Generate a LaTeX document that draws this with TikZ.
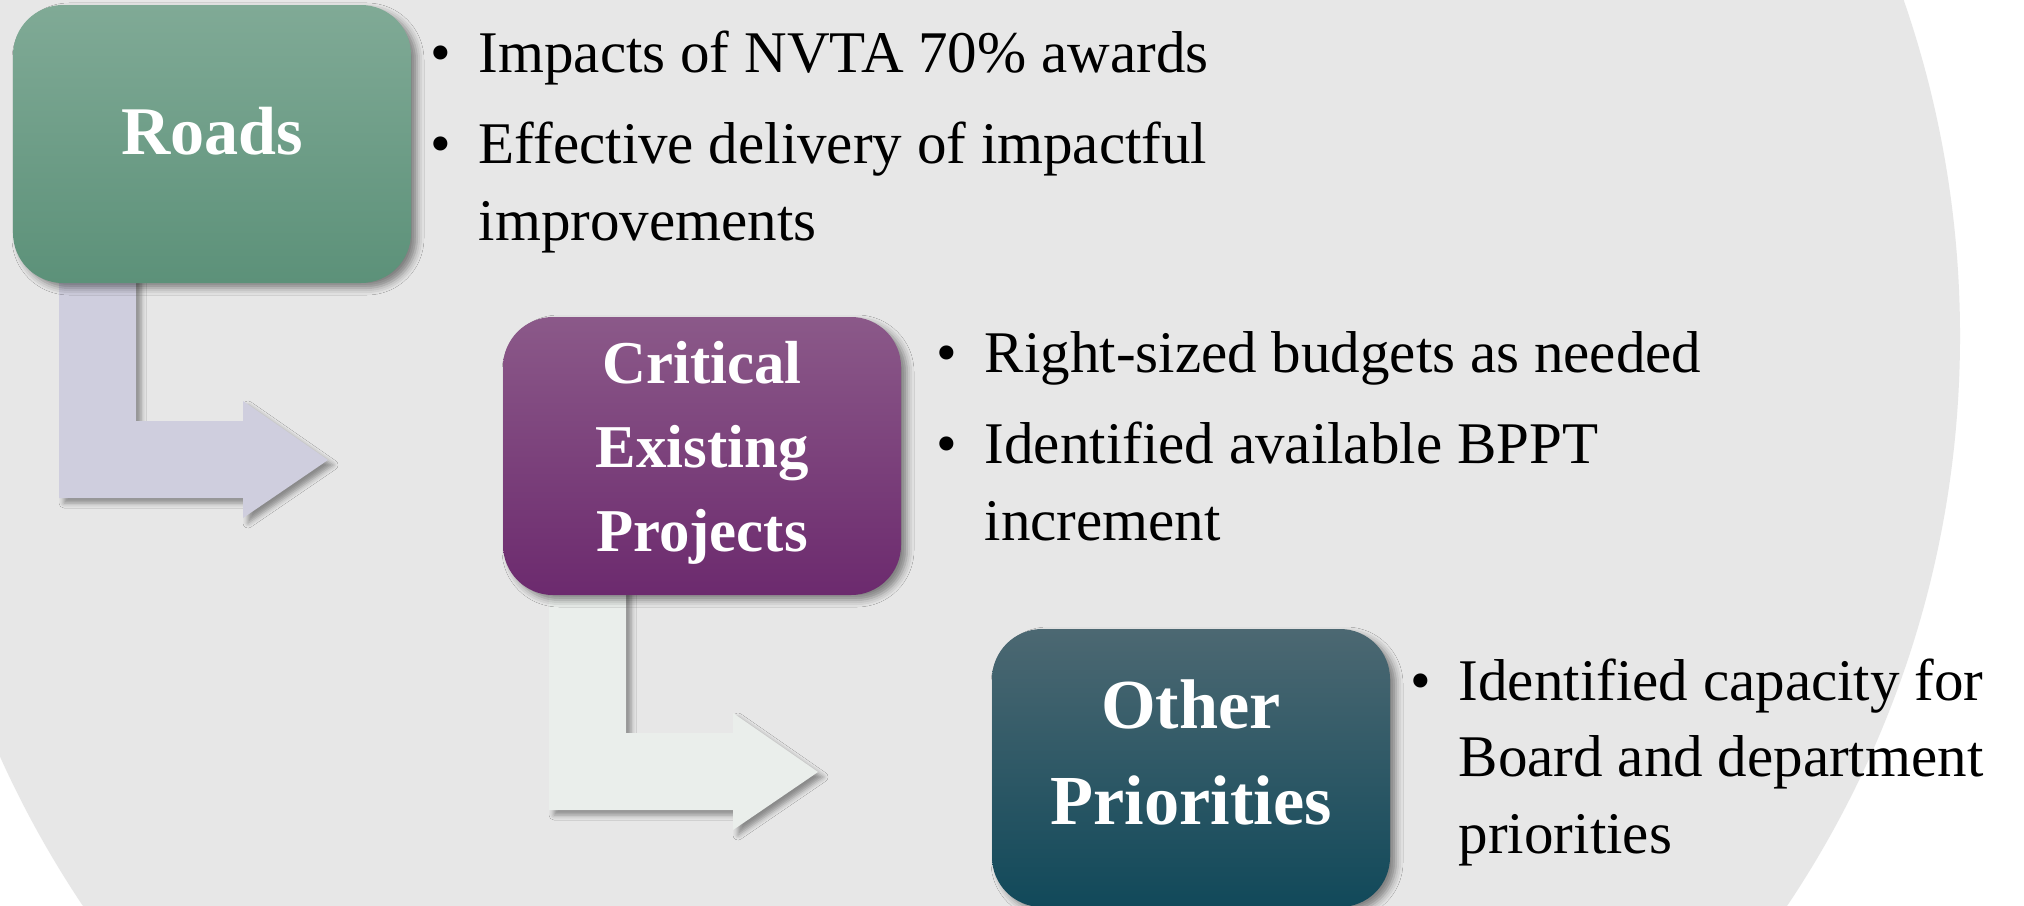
\documentclass[tikz,border=0pt]{standalone}
\usepackage{fontspec}
\setmainfont{Liberation Serif}
\usetikzlibrary{shadows,shadows.blur,positioning,backgrounds}
\definecolor{bc}{RGB}{231,231,231}
\definecolor{fca}{RGB}{128,170,150}
\definecolor{fcb}{RGB}{92,145,121}
\definecolor{fcc}{RGB}{139,89,137}
\definecolor{fcd}{RGB}{108,42,110}
\definecolor{fce}{RGB}{76,104,114}
\definecolor{fcf}{RGB}{17,73,90}
\definecolor{aca}{RGB}{207,206,222}
\definecolor{acb}{RGB}{234,238,235}
\tikzset{
  box/.style 2 args={
    top color=#1,
    bottom color=#2,
    minimum width=3.98cm,
    minimum height=2.78cm,
    rounded corners=0.5cm,
    text=white,
    align=center,
    inner sep=0pt,
    outer sep=0pt,
    blur shadow={shadow xshift=0.6mm, shadow yshift=-0.5mm, shadow blur radius=0.7mm, shadow opacity=45}
  },
  notes/.style={
    anchor=base west,
    inner sep=0pt,
    font=\fontsize{16.8}{21.9}\selectfont
  },
  bentarrow/.style={
    blur shadow={shadow xshift=0.5mm, shadow yshift=-0.5mm, shadow blur radius=0.5mm, shadow opacity=40}
  }
}

\begin{document}
\begin{tikzpicture}
\useasboundingbox (0,0) rectangle (20.24,9.05);
\node[box={fca}{fcb}, text depth=0.26cm, font=\fontsize{19.4}{24}\selectfont\bfseries] (roads) at (2.12,7.61) {Roads};
\node[box={fcc}{fcd}, text depth=0.19cm, font=\fontsize{17.3}{23.9}\selectfont\bfseries] (crit) at (7.02,4.49) {Critical\\Existing\\Projects};
\node[box={fce}{fcf}, text depth=0.31cm, font=\fontsize{20}{27.3}\selectfont\bfseries] (other) at (11.91,1.37) {Other\\Priorities};

\node[notes] (roadsl) at (4.30,8.33) {\begin{tabular}[t]{@{}l@{\hspace{7.8pt}}l@{}}
\textbullet & Impacts of NVTA 70\% awards\\[4pt]
\textbullet & Effective delivery of impactful\\
 & improvements
\end{tabular}};
\node[notes] (critl) at (9.36,5.33) {\begin{tabular}[t]{@{}l@{\hspace{7.8pt}}l@{}}
\textbullet & Right-sized budgets as needed\\[4pt]
\textbullet & Identified available BPPT\\
 & increment
\end{tabular}};
\node[notes] (otherl) at (14.10,2.05) {\begin{tabular}[t]{@{}l@{\hspace{7.8pt}}l@{}}
\textbullet & Identified capacity for\\
 & Board and department\\
 & priorities
\end{tabular}};

\begin{pgfonlayer}{background}
\fill[white] (0,0) rectangle (20.24,9.05);
\begin{scope}
\clip (0,0) rectangle (20.24,9.05);
\fill[bc] (9.35,5.69) circle (10.25);
\end{scope}
%\draw[red] (roads.south west) -- (crit.west);
\foreach \b/\c in {roads/aca, crit/acb}{
\begin{scope}[shift={(\b.south west)}]
\fill[\c, bentarrow] (0.46,0.13) -- (0.46,-2.15) -- (2.30,-2.15) -- (2.30,-2.35) -- (3.15,-1.77) -- (2.30,-1.18) -- (2.30,-1.38) -- (1.23,-1.38) -- (1.23,0.13) -- cycle;
\end{scope}
}
\end{pgfonlayer}
\end{tikzpicture}
\end{document}
